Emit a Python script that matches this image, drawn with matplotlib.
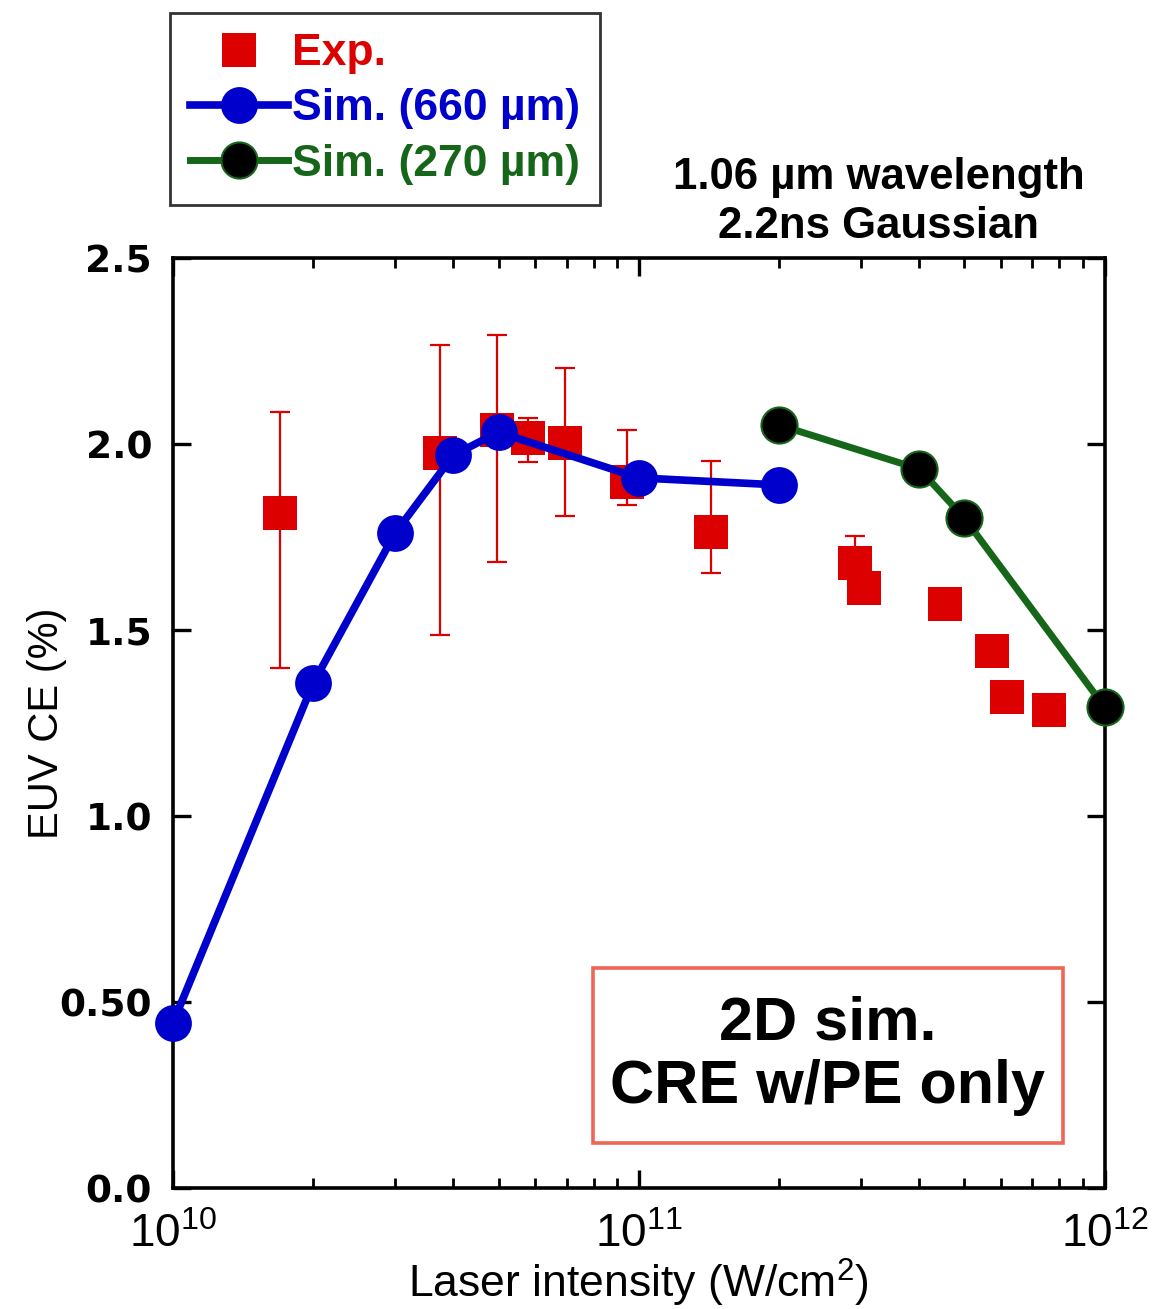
import numpy as np
import matplotlib.pyplot as plt
from matplotlib.lines import Line2D
import matplotlib.patches as patches
import matplotlib.ticker as ticker

plt.rcParams['font.family'] = ['Liberation Sans', 'DejaVu Sans']
plt.rcParams['mathtext.fontset'] = 'custom'
plt.rcParams['mathtext.rm'] = 'Liberation Sans'
plt.rcParams['mathtext.it'] = 'Liberation Sans'
plt.rcParams['mathtext.bf'] = 'Liberation Sans:bold'

# experiment (W/cm2, %) with asymmetric error bars
exp_x = [1.70e10, 3.74e10, 4.96e10, 5.78e10, 6.94e10, 9.42e10, 1.43e11,
         2.91e11, 3.05e11, 4.54e11, 5.72e11, 6.16e11, 7.58e11]
exp_y = [1.815, 1.976, 2.038, 2.016, 2.003, 1.898, 1.763,
         1.680, 1.613, 1.570, 1.444, 1.320, 1.285]
exp_lo = [0.417, 0.489, 0.355, 0.064, 0.197, 0.062, 0.110,
          0.0, 0.0, 0.0, 0.0, 0.0, 0.0]
exp_hi = [0.272, 0.290, 0.255, 0.054, 0.201, 0.140, 0.191,
          0.073, 0.0, 0.0, 0.0, 0.0, 0.0]

# simulation, 660 um
sim660_x = [1e10, 2e10, 3e10, 4e10, 5e10, 1e11, 2e11]
sim660_y = [0.444, 1.357, 1.761, 1.970, 2.032, 1.909, 1.890]

# simulation, 270 um
sim270_x = [2e11, 4e11, 5e11, 1e12]
sim270_y = [2.051, 1.933, 1.801, 1.293]

red = '#dd0000'
blue = '#0000cc'
green = '#16661a'

fig = plt.figure(figsize=(11.53, 13.09), dpi=100)
ax = fig.add_axes([0.150, 0.0924, 0.808, 0.7105])

ax.errorbar(exp_x, exp_y, yerr=[exp_lo, exp_hi], fmt='none', ecolor=red,
            elinewidth=1.6, capsize=7, capthick=1.6, zorder=2)
ax.plot(exp_x, exp_y, 's', color=red, markersize=24, markeredgewidth=0, zorder=3)
ax.plot(sim660_x, sim660_y, '-o', color=blue, lw=5.5, markersize=26.5,
        markeredgewidth=0, zorder=4, clip_on=False)
ax.plot(sim270_x, sim270_y, '-o', color=green, lw=5, markersize=26,
        markerfacecolor='black', markeredgecolor=green, markeredgewidth=1.5,
        zorder=4, clip_on=False)

ax.set_xscale('log')
ax.set_xlim(1e10, 1e12)
ax.set_ylim(0, 2.5)
ax.set_yticks([0.0, 0.5, 1.0, 1.5, 2.0, 2.5])
ax.set_yticklabels(['0.0', '0.50', '1.0', '1.5', '2.0', '2.5'],
                   family='DejaVu Sans', fontweight='bold', fontsize=27)
ax.set_xticks([1e10, 1e11, 1e12])
ax.set_xticklabels([r'$\mathregular{10^{10}}$', r'$\mathregular{10^{11}}$',
                    r'$\mathregular{10^{12}}$'], fontsize=33)
ax.xaxis.set_minor_locator(ticker.LogLocator(base=10, subs=np.arange(2, 10)))
ax.xaxis.set_minor_formatter(ticker.NullFormatter())

for s in ax.spines.values():
    s.set_linewidth(2.6)
ax.tick_params(which='major', direction='in', length=13, width=2.4,
               top=True, right=True)
ax.tick_params(which='minor', direction='in', length=7, width=2.0, top=True)
ax.tick_params(axis='y', which='major', pad=15)
ax.tick_params(axis='x', which='major', pad=18)

ax.set_xlabel(r'Laser intensity (W/cm$\mathregular{^2}$)', fontsize=32, labelpad=0)
ax.set_ylabel('EUV CE (%)', fontsize=30, labelpad=-5)

# note box
rect = patches.Rectangle((0.4506, 0.0484), 0.5044, 0.1882, transform=ax.transAxes,
                         fill=False, edgecolor='#ee6655', linewidth=2.6, zorder=5)
ax.add_patch(rect)
ax.text(0.703, 0.1425, '2D sim.\nCRE w/PE only', transform=ax.transAxes,
        ha='center', va='center', fontsize=44, fontweight='bold',
        linespacing=1.15, zorder=6)

fig.text(0.762, 0.846, '1.06 \u00b5m wavelength\n2.2ns Gaussian', ha='center',
         va='center', fontsize=31.5, fontweight='bold', linespacing=1.25)

handles = [
    Line2D([], [], ls='none', marker='s', color=red, markersize=24, markeredgewidth=0),
    Line2D([], [], color=blue, lw=5.5, marker='o', markersize=26.5, markeredgewidth=0),
    Line2D([], [], color=green, lw=5, marker='o', markersize=26, markerfacecolor='black',
           markeredgecolor=green, markeredgewidth=1.5),
]
labels = ['Exp.', 'Sim. (660 \u00b5m)', 'Sim. (270 \u00b5m)']
leg = fig.legend(handles, labels, loc='upper left', bbox_to_anchor=(0.1475, 0.990),
                 prop={'size': 32, 'weight': 'bold'}, frameon=True, fancybox=False,
                 edgecolor='black', handlelength=2.2, handletextpad=0.1,
                 labelspacing=0.32, borderpad=0.45, borderaxespad=0)
leg.get_frame().set_linewidth(2)
for t, c in zip(leg.get_texts(), [red, blue, green]):
    t.set_color(c)

fig.savefig('out.png', dpi=100)
